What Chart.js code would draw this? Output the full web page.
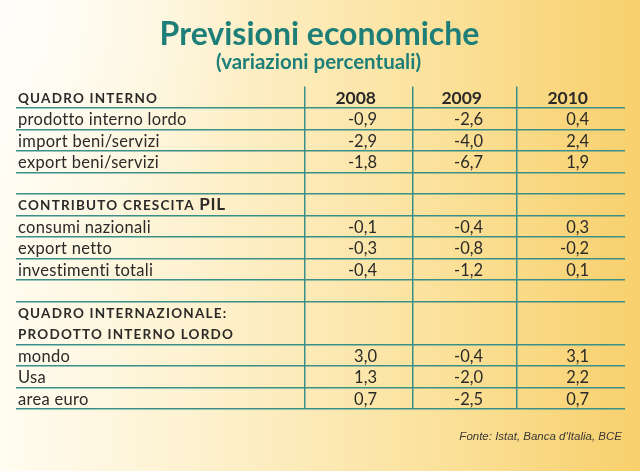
<!DOCTYPE html>
<html>
<head>
<meta charset="utf-8">
<script src="https://cdn.jsdelivr.net/npm/chart.js@4.4.1/dist/chart.umd.min.js"></script>
<style>
  html, body { margin: 0; padding: 0; background: #fdf0c8; }
  canvas { display: block; }
</style>
</head>
<body>
<canvas id="table" width="640" height="471"></canvas>
<script>
const rowLabels = [
  "QUADRO INTERNO", "prodotto interno lordo", "import beni/servizi", "export beni/servizi", "",
  "CONTRIBUTO CRESCITA", "consumi nazionali", "export netto", "investimenti totali", "",
  "QUADRO INTERNAZIONALE:", "PRODOTTO INTERNO LORDO", "mondo", "Usa", "area euro"
];
const headingRows = [0, 5, 10, 11];
const rowSuffix = { 5: "PIL" };
const years = ["2008", "2009", "2010"];
const values2008 = [null, -0.9, -2.9, -1.8, null, null, -0.1, -0.3, -0.4, null, null, null, 3.0, 1.3, 0.7];
const values2009 = [null, -2.6, -4.0, -6.7, null, null, -0.4, -0.8, -1.2, null, null, null, -0.4, -2.0, -2.5];
const values2010 = [null, 0.4, 2.4, 1.9, null, null, 0.3, -0.2, 0.1, null, null, null, 3.1, 2.2, 0.7];
const yearValues = [values2008, values2009, values2010];

const title = "Previsioni economiche";
const subtitle = "(variazioni percentuali)";
const source = "Fonte: Istat, Banca d'Italia, BCE";

// column boundaries on the x scale (0..100)
const colEdges = [0, 47.45, 65.19, 82.27, 100];
const hiddenRowLines = [0, 11];

const teal = "#1e7f78";
const lineColor = "#3a9088";
const ink = "#2b2a28";

const fmt = (v) => v.toFixed(1).replace(".", ",");
const colCenter = (j) => (colEdges[j + 1] + colEdges[j + 2]) / 2;

const datasets = [
  {
    label: "rows",
    data: rowLabels.map((t, i) => ({ x: 0, y: i + 0.5, text: t, row: i })).filter((p) => p.text),
  },
  {
    label: "years",
    data: years.map((y, j) => ({ x: colCenter(j), y: 0.5, text: y })),
  },
].concat(
  yearValues.map((vals, j) => ({
    label: years[j],
    data: vals
      .map((v, i) => (v == null ? null : { x: colCenter(j), y: i + 0.5, text: fmt(v) }))
      .filter((p) => p),
  }))
);

const background = {
  id: "background",
  beforeDraw(chart) {
    const { ctx, width, height } = chart;
    const g = ctx.createLinearGradient(0, 0, width, 0);
    g.addColorStop(0, "#fffcf1");
    g.addColorStop(0.3, "#fdf2d0");
    g.addColorStop(0.65, "#fbe3a0");
    g.addColorStop(1, "#f8d06c");
    ctx.save();
    ctx.fillStyle = g;
    ctx.fillRect(0, 0, width, height);
    const r = ctx.createRadialGradient(0, 0, 0, 0, 0, 260);
    r.addColorStop(0, "rgba(255,255,255,0.7)");
    r.addColorStop(1, "rgba(255,255,255,0)");
    ctx.fillStyle = r;
    ctx.fillRect(0, 0, width, height);
    ctx.restore();
  },
};

const cellText = {
  id: "cellText",
  afterDatasetsDraw(chart) {
    const { ctx, chartArea } = chart;
    ctx.save();
    ctx.textBaseline = "middle";
    ctx.fillStyle = ink;

    chart.data.datasets.forEach((ds, d) => {
      const meta = chart.getDatasetMeta(d);
      meta.data.forEach((el, i) => {
        const p = ds.data[i];
        if (!p || !p.text) return;
        if (ds.label === "rows") {
          ctx.textAlign = "left";
          const x = el.x + 2;
          const y = el.y + 1;
          if (headingRows.includes(p.row)) {
            ctx.font = "bold 13.5px Lato";
            ctx.letterSpacing = "1.2px";
            ctx.fillText(p.text, x, y);
            if (rowSuffix[p.row]) {
              const w = ctx.measureText(p.text + " ").width;
              ctx.font = "bold 17px Lato";
              ctx.letterSpacing = "0.8px";
              ctx.fillText(rowSuffix[p.row], x + w, y - 1);
            }
            ctx.letterSpacing = "0px";
          } else {
            ctx.font = "16.5px Lato";
            ctx.letterSpacing = "0.3px";
            ctx.fillText(p.text, x, y);
            ctx.letterSpacing = "0px";
          }
        } else if (ds.label === "years") {
          ctx.textAlign = "right";
          ctx.font = "bold 17.5px Lato";
          ctx.fillText(p.text, el.x + 17, el.y + 1);
        } else {
          ctx.textAlign = "right";
          ctx.font = "16.5px Lato";
          ctx.fillText(p.text, el.x + 18, el.y + 1);
        }
      });
    });

    // heading and source
    const cx = (chartArea.left + chartArea.right) / 2;
    ctx.textAlign = "center";
    ctx.fillStyle = teal;
    ctx.font = "bold 32px Lato";
    ctx.fillText(title, cx - 1, 35);
    ctx.font = "bold 20.5px Lato";
    ctx.fillText(subtitle, cx - 2, 62);

    ctx.textAlign = "right";
    ctx.fillStyle = "#3a3835";
    ctx.font = "italic 11.5px 'Liberation Sans Narrow', 'Liberation Sans', sans-serif";
    ctx.fillText(source, chartArea.right - 3, 437);
    ctx.restore();
  },
};

new Chart(document.getElementById("table"), {
  type: "scatter",
  data: { datasets },
  options: {
    responsive: false,
    animation: false,
    devicePixelRatio: 1,
    layout: { padding: { left: 16, right: 15, top: 86.5, bottom: 62 } },
    elements: { point: { radius: 0, hoverRadius: 0 } },
    plugins: { legend: { display: false }, tooltip: { enabled: false } },
    scales: {
      x: {
        type: "linear",
        min: 0,
        max: 100,
        border: { display: false },
        ticks: { display: false },
        afterBuildTicks: (scale) => {
          scale.ticks = colEdges.slice(1, -1).map((v) => ({ value: v }));
        },
        grid: { color: lineColor, lineWidth: 1.5, drawTicks: false },
      },
      y: {
        type: "linear",
        min: 0,
        max: rowLabels.length,
        reverse: true,
        border: { display: false },
        ticks: { display: false },
        afterBuildTicks: (scale) => {
          scale.ticks = rowLabels.map((_, i) => ({ value: i + 1 }));
        },
        grid: {
          drawTicks: false,
          lineWidth: 1.5,
          color: (c) => (hiddenRowLines.includes(c.tick && c.tick.value) ? "rgba(0,0,0,0)" : lineColor),
        },
      },
    },
  },
  plugins: [background, cellText],
});
</script>
</body>
</html>
